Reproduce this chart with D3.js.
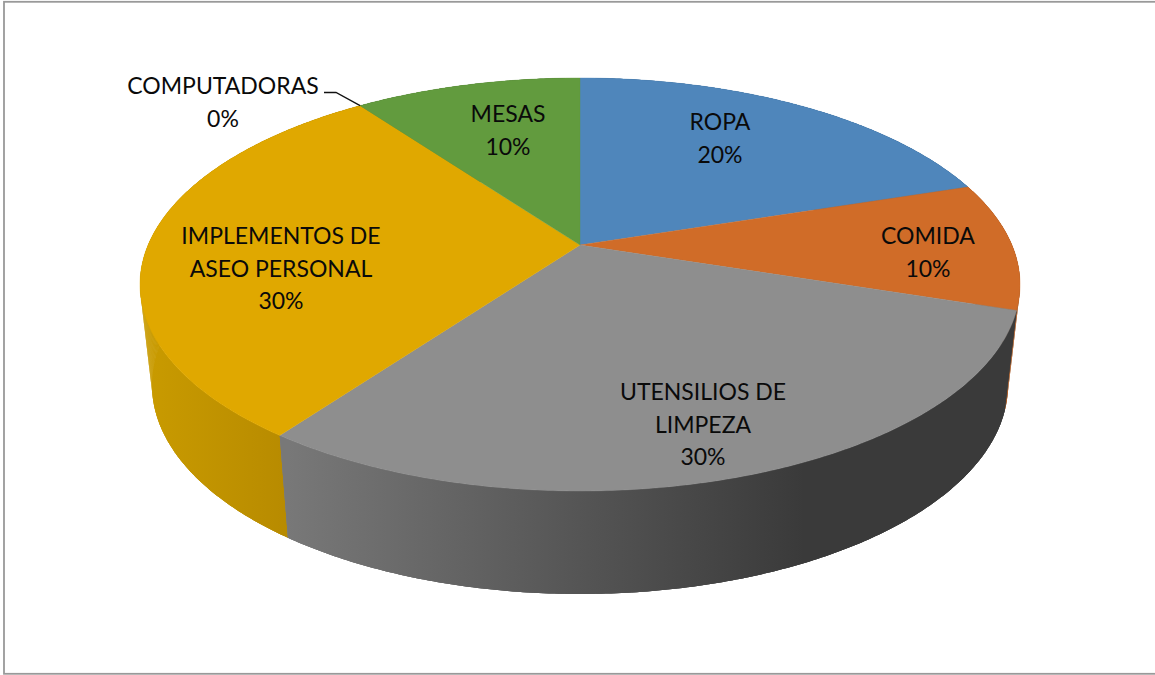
<!DOCTYPE html>
<html><head><meta charset="utf-8">
<script src="https://cdn.jsdelivr.net/npm/d3@7/dist/d3.min.js"></script>
<style>html,body{margin:0;padding:0;background:#fff}svg{display:block}text{font-family:Lato,"Open Sans",sans-serif;font-size:23px;fill:#0a0a0a}</style>
</head><body><script>
const categories=["ROPA","COMIDA","UTENSILIOS DE LIMPEZA","IMPLEMENTOS DE ASEO PERSONAL","COMPUTADORAS","MESAS"];
const values=[20,10,30,30,0,10];
const percentLabels=["20%","10%","30%","30%","0%","10%"];
const topColors=["#4f86bb","#d06c28","#8e8e8e","#e0a800","#7f9fc8","#629b3e"];
const sideDark=[["#3a6a96","#3a6a96"],["#a35520","#a35520"],["#787878","#3a3a3a"],["#c89a00","#ae8200"],["#5f7fa8","#5f7fa8"],["#4d7b31","#4d7b31"]];
const labelLines=[["ROPA"],["COMIDA"],["UTENSILIOS DE","LIMPEZA"],["IMPLEMENTOS DE","ASEO PERSONAL"],["COMPUTADORAS"],["MESAS"]];

const W=1155,H=675;
const cx=580;
const topRim={rx:440,cy:284.5,ry:206.5};
const bottomRim={rx:428,cy:385,ry:209};
const k=0.191; // perspective shift of the pie centre
const svg=d3.select("body").append("svg").attr("width",W).attr("height",H);
svg.append("rect").attr("x",4).attr("y",1.8).attr("width",W+10).attr("height",672)
  .attr("fill","#fff").attr("stroke","#999").attr("stroke-width",1.8);

const pie=d3.pie().sort(null).value(d=>d)(values);
function project(a,r,rim){
  const X=r*Math.sin(a),Y=-r*Math.cos(a),d=1-k*Y;
  const sx=d3.scaleLinear([-1,1],[cx-rim.rx,cx+rim.rx]);
  const sy=d3.scaleLinear([-1,1],[rim.cy-rim.ry,rim.cy+rim.ry]);
  return [sx(X*Math.sqrt(1-k*k)/d),sy((Y-k)/d)];
}
const line=d3.line();
function arcAngles(s,e){const n=Math.max(2,Math.ceil((e-s)/0.01));return d3.range(n+1).map(i=>s+(e-s)*i/n);}

const defs=svg.append("defs");
pie.forEach((p,i)=>{
  const g=defs.append("linearGradient").attr("id","side"+i).attr("gradientUnits","userSpaceOnUse");
  const xs=arcAngles(p.startAngle,p.endAngle).map(a=>project(a,1,bottomRim)[0]);
  const x0=d3.min(xs),x1=d3.max(xs);
  g.attr("x1",x0).attr("x2",i===2?x0+(x1-x0)*0.72:x1).attr("y1",0).attr("y2",0);
  g.append("stop").attr("offset",0).attr("stop-color",sideDark[i][0]);
  g.append("stop").attr("offset",1).attr("stop-color",sideDark[i][1]);
});

// side walls: every slice's extruded rim, back slices first
const order=[5,0,4,1,3,2];
order.forEach(i=>{
  const p=pie[i]; if(p.endAngle===p.startAngle) return;
  const angs=arcAngles(p.startAngle,p.endAngle);
  const pts=angs.map(a=>project(a,1,topRim)).concat(angs.slice().reverse().map(a=>project(a,1,bottomRim)));
  svg.append("path").attr("d",line(pts)+"Z").attr("fill",`url(#side${i})`);
  // the same wall again as quads, so the silhouette past the rim tangent is filled
  d3.pairs(angs).forEach(([a,b])=>{
    svg.append("path").attr("d",line([project(a,1,topRim),project(b,1,topRim),project(b,1,bottomRim),project(a,1,bottomRim)])+"Z")
      .attr("fill",`url(#side${i})`);
  });
  svg.append("path").attr("d",line(pts)+"Z").attr("fill",`url(#side${i})`);
});
// top faces
pie.forEach((p,i)=>{
  if(p.endAngle===p.startAngle) return;
  const pts=[project(0,0,topRim)].concat(arcAngles(p.startAngle,p.endAngle).map(a=>project(a,1,topRim)));
  svg.append("path").attr("d",line(pts)+"Z").attr("fill",topColors[i]).attr("stroke",topColors[i]).attr("stroke-width",0.4);
});

// leader line for the zero slice
const tip=project(pie[4].startAngle,1,topRim);
svg.append("path").attr("d",line([[324,92.5],[336,92.5],[tip[0],tip[1]]]))
  .attr("fill","none").attr("stroke","#111").attr("stroke-width",1.3);

// labels
const labelCenters=[[720,121],[928,235],[703,391],[281,235],[223,85],[508,113]];
const lineStep=32.6;
categories.forEach((c,i)=>{
  const lines=labelLines[i].concat(percentLabels[i]);
  lines.forEach((t,j)=>{
    svg.append("text").attr("x",labelCenters[i][0]).attr("y",labelCenters[i][1]+j*lineStep)
      .attr("text-anchor","middle").attr("dominant-baseline","central").text(t);
  });
});
</script></body></html>
